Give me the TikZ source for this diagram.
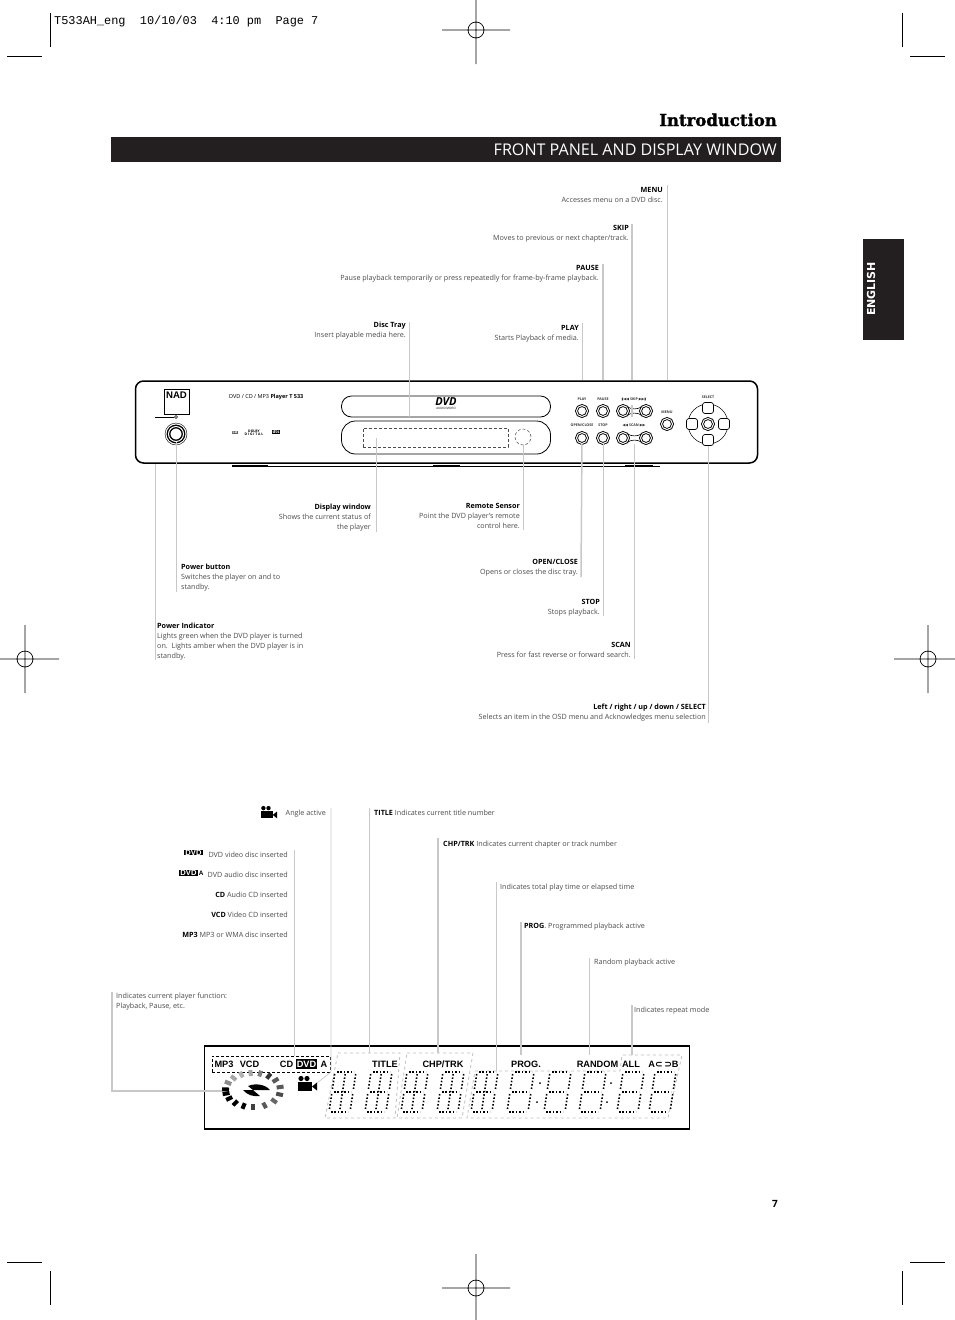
\documentclass[tikz,border=0pt]{standalone}
\usepackage{fontspec}
\setmainfont{Open Sans}
\newfontfamily\symfont{DejaVu Sans}
\newfontfamily\dispfont{Liberation Sans}
\newfontfamily\typefont{Liberation Mono}
\newfontfamily\slabfont[BoldFeatures={FakeBold=1.5}]{DejaVu Serif}
\usepackage{tikz}
\usetikzlibrary{positioning}
\definecolor{txt}{HTML}{4A4A4A}
\definecolor{ink}{HTML}{231F20}
\definecolor{leadc}{HTML}{C8C8C8}
\newcommand{\hd}[1]{\textbf{\textcolor{black}{#1}}}

\begin{document}
\begin{tikzpicture}[x=1pt, y=-1pt,
  note/.style={font=\fontsize{7.2}{10}\selectfont, inner sep=0pt, align=right, anchor=north east, text=txt, yshift=-1pt},
  noter/.style={note, align=left, anchor=north west},
  lead/.style={draw=leadc, line width=0.7pt},
  leadb/.style={draw=leadc, line width=1.5pt},
  crop/.style={draw=black, line width=0.7pt},
  knob/.style={circle, draw, line width=0.9pt, double=white, double distance=1pt, minimum size=11pt, inner sep=0pt},
  pad/.style={draw, fill=white, rounded corners=2.5pt, line width=0.7pt, minimum size=11pt, inner sep=0pt},
  tiny/.style={font=\bfseries\fontsize{3.6}{4}\selectfont, text=black!80, inner sep=0pt},
  disp/.style={font=\dispfont\bfseries\fontsize{9.2}{10}\selectfont, inner sep=0pt, anchor=base},
  inv/.style={fill=black, text=white, inner sep=1pt},
  group/.style={draw=black!25, line width=0.8pt, dashed},
  dots/.style={line width=1.6pt, dash pattern=on 1.5pt off 1.9pt, black},
  regmark/.pic={\draw[crop] (0,0) circle (8pt) (-34,0) -- (34,0) (0,-34) -- (0,34);},
  camera/.pic={
    \fill (-9,-1) rectangle (5,8);
    \fill (-6,-4) circle (2.6pt) (0,-4) circle (2.6pt);
    \fill (5,4) -- (10,0) -- (10,8) -- cycle;},
  digit/.pic={
    \begin{scope}[xslant=.15]
    \draw[dots] (2,-40) -- (19,-40) (2,-20) -- (19,-20) (2,0) -- (19,0);
    \draw[dots] (0,-38) -- (0,-22) (0,-18) -- (0,-2) (21,-38) -- (21,-22) (21,-18) -- (21,-2);
    \end{scope}},
  digitb/.pic={
    \pic {digit};
    \begin{scope}[xslant=.15]
    \draw[dots] (10.5,-38) -- (10.5,-2);
    \end{scope}}
]
\useasboundingbox (0,0) rectangle (954,1320);

% printer marks
\draw[crop] (50,13) -- (50,47) (7,56) -- (42,56) (902,13) -- (902,47) (910,56) -- (945,56);
\draw[crop] (50,1271) -- (50,1305) (7,1262) -- (42,1262) (902,1271) -- (902,1305) (910,1262) -- (945,1262);
\pic at (476,30) {regmark};
\pic at (476,1288) {regmark};
\pic at (25,659) {regmark};
\pic at (928,659) {regmark};
\node[anchor=west, inner sep=0pt, font=\typefont\fontsize{11.9}{12}\selectfont] (slug) at (54,21) {T533AH\_eng~~10/10/03~~4:10~pm~~Page~7};

% heading
\node[anchor=base east, inner sep=0pt, font=\slabfont\bfseries\fontsize{16.5}{18}\selectfont] (intro) at (777,126) {Introduction};
\node[fill=ink, minimum width=670pt, minimum height=25pt, inner sep=0pt] (bar) at (446,149.5) {};
\node[anchor=base east, inner sep=0pt, text=white, font=\fontsize{16.1}{18}\selectfont] (bartext) at (777,155) {FRONT PANEL AND DISPLAY WINDOW};
\node[fill=ink, minimum width=41pt, minimum height=101pt, inner sep=0pt] (tab) at (883.5,289.5) {};
\node[rotate=90, inner sep=0pt, text=white, font=\symfont\bfseries\fontsize{11}{12}\selectfont] (tabtext) at (871,289) {ENGLISH};
\node[inner sep=0pt, font=\bfseries\fontsize{10}{12}\selectfont] (pageno) at (775,1204) {7};

% player front
\draw[black, line width=0.9pt] (232,466) -- (660,466);
\draw[black, line width=2pt] (232,465.5) -- (268,465.5) (433,465.5) -- (460,465.5) (625,465.5) -- (653,465.5);
\node[draw, line width=1.5pt, fill=white, rounded corners=8pt, minimum width=622pt, minimum height=82pt, inner sep=0pt] (panel) at (446.5,422) {};
\node[draw, line width=0.8pt, rounded corners=10pt, minimum width=209pt, minimum height=21pt, inner sep=0pt] (tray) at (446,406.5) {};
\node[draw, line width=0.8pt, rounded corners=14pt, minimum width=209pt, minimum height=33pt, inner sep=0pt] (window) at (446,437.5) {};
\node[draw, black!70, line width=0.5pt, densely dashed, minimum width=145pt, minimum height=19pt, inner sep=0pt] (screen) at (435.5,437.5) {};
\node[draw, circle, black!70, line width=0.5pt, densely dashed, minimum size=16pt, inner sep=0pt] (sensor) at (523,437) {};
\node[draw, line width=0.8pt, minimum width=25pt, minimum height=25pt, inner sep=0pt] (nad) at (176.5,401.5) {};
\node[inner sep=0pt, font=\dispfont\bfseries\fontsize{9.6}{10}\selectfont] (nadtext) at (176.5,395) {NAD};
\node[draw, circle, line width=0.5pt, minimum size=3pt, inner sep=0pt] (powerled) at (176,417) {};
\node[circle, draw, line width=1.4pt, double=white, double distance=1pt, minimum size=15pt, inner sep=0pt] (power) at (176,434) {};
\node[draw, circle, line width=0.4pt, minimum size=22pt, inner sep=0pt] at (power) {};
\node[anchor=west, inner sep=0pt, font=\fontsize{5.5}{6}\selectfont] (model) at (229,397) {DVD / CD / MP3 \textbf{Player T 533}};
\node[inner sep=0.5pt, fill=black!60, text=white, font=\bfseries\fontsize{3.4}{4}\selectfont] (cdlogo) at (235,432.5) {CD};
\node[inner sep=0pt, font=\bfseries\fontsize{3.4}{4}\selectfont, align=center] (dolby) at (254,432.5) {DOLBY\\[-1pt]D I G I T A L};
\node[inner sep=0.6pt, fill=black, text=white, font=\bfseries\fontsize{4.4}{5}\selectfont] (dts) at (276,432) {dts};
\node[inner sep=0pt, font=\bfseries\itshape\fontsize{11}{11}\selectfont] (dvdlogo) at (446,402) {DVD};
\node[inner sep=0pt, below=0.5pt of dvdlogo, font=\fontsize{3}{3}\selectfont] (dvdsub) {AUDIO/VIDEO};

% buttons
\node[knob] (play) at (582,411) {};
\node[knob] (pause) at (603,411) {};
\node[knob] (skipl) at (623,411) {};
\node[knob] (skipr) at (646,411) {};
\node[knob] (menu) at (667,424) {};
\node[knob] (open) at (582,438) {};
\node[knob] (stop) at (603,438) {};
\node[knob] (scanl) at (623,438) {};
\node[knob] (scanr) at (646,438) {};
\draw[line width=0.6pt] (skipl.north east) to[bend right=30] (skipr.north west);
\draw[line width=0.6pt] (skipl.south east) to[bend left=30] (skipr.south west);
\draw[line width=0.6pt] (scanl.north east) to[bend right=30] (scanr.north west);
\draw[line width=0.6pt] (scanl.south east) to[bend left=30] (scanr.south west);
\node[draw, circle, line width=0.5pt, minimum size=40pt, inner sep=0pt] (ring) at (708,424) {};
\node[knob] (enter) at (ring) {};
\node[pad] (up) at (708,408) {};
\node[pad] (down) at (708,440) {};
\node[pad] (left) at (692,424) {};
\node[pad] (right) at (724,424) {};
\node[tiny] (playt) at (582,399) {PLAY};
\node[tiny] (pauset) at (603,399) {PAUSE};
\node[tiny] (skipt) at (634,399) {{\symfont ▮◀◀} SKIP {\symfont ▶▶▮}};
\node[tiny] (menut) at (667,412) {MENU};
\node[tiny] (opent) at (582,425) {OPEN/CLOSE};
\node[tiny] (stopt) at (603,425) {STOP};
\node[tiny] (scant) at (634,425) {{\symfont ◀◀} SCAN {\symfont ▶▶}};
\node[tiny] (selt) at (708,397) {SELECT};

% notes above and below the player
\node[note] (menun) at (663,186) {\hd{MENU}\\Accesses menu on a DVD disc.};
\node[note] (skipn) at (629,224) {\hd{SKIP}\\Moves to previous or next chapter/track.};
\node[note] (pausen) at (599,264) {\hd{PAUSE}\\Pause playback temporarily or press repeatedly for frame-by-frame playback.};
\node[note] (playn) at (579,324) {\hd{PLAY}\\Starts Playback of media.};
\node[note] (trayn) at (406,321) {\hd{Disc Tray}\\Insert playable media here.};
\node[note] (windown) at (371,503) {\hd{Display window}\\Shows the current status of\\the player};
\node[note] (sensorn) at (520,502) {\hd{Remote Sensor}\\Point the DVD player's remote\\control here.};
\node[noter] (powern) at (181,563) {\hd{Power button}\\Switches the player on and to\\standby.};
\node[noter] (ledn) at (157,622) {\hd{Power Indicator}\\Lights green when the DVD player is turned\\on.~~Lights amber when the DVD player is in\\standby.};
\node[note] (openn) at (578,558) {\hd{OPEN/CLOSE}\\Opens or closes the disc tray.};
\node[note] (stopn) at (600,598) {\hd{STOP}\\Stops playback.};
\node[note] (scann) at (631,641) {\hd{SCAN}\\Press for fast reverse or forward search.};
\node[note] (seln) at (706,703) {\hd{Left / right / up / down / SELECT}\\Selects an item in the OSD menu and Acknowledges menu selection};

\coordinate (menutop) at (667,185);
\coordinate (skiptop) at (632,224);
\coordinate (pausetop) at (603,264);
\coordinate (playtop) at (582,323);
\coordinate (traytop) at (409,322);
\coordinate (windowend) at (376,532);
\coordinate (sensorend) at (523,530);
\coordinate (powerend) at (176,592);
\coordinate (ledend) at (155,660);
\coordinate (openend) at (581,577);
\coordinate (stopend) at (603,616);
\coordinate (scanend) at (634,659);
\coordinate (selend) at (708,723);
\draw[lead] (menutop) -- (menutop |- panel.north);
\draw[leadb] (skiptop) -- (skiptop |- panel.north);
\draw[leadb] (skiptop |- skipl.north) -- (skiptop |- skipl.south);
\draw[leadb] (pausetop) -- (pausetop |- panel.north);
\draw[lead] (playtop) -- (playtop |- panel.north);
\draw[lead] (traytop) -- (traytop |- tray.330);
\draw[lead] (windowend) -- (windowend |- screen);
\draw[lead] (sensorend) -- (sensor.south);
\draw[lead] (powerend) -- (power.south);
\draw[lead] (ledend) -- (ledend |- panel.south);
\draw[black, line width=0.6pt] (powerled) -- (powerled -| ledend);
\draw[leadb] (openend) -- (open);
\draw[lead] (stopend) -- (stop.south);
\draw[lead] (scanend) -- (scanend |- scanl.south);
\draw[lead] (selend) -- (down.south);

% notes over the display
\pic[scale=.85] at (268.5,811.5) {camera};
\node[note] (anglen) at (326,808.5) {Angle active};
\node[note] (dvdn) at (288,850.5) {DVD video disc inserted};
\node[note] (audion) at (288,870.5) {DVD audio disc inserted};
\node[note] (cdn) at (288,890.5) {\hd{CD} Audio CD inserted};
\node[note] (vcdn) at (288,910.5) {\hd{VCD} Video CD inserted};
\node[note] (mp3n) at (288,930.5) {\hd{MP3} MP3 or WMA disc inserted};
\node[inv, font=\dispfont\bfseries\fontsize{7.6}{8}\selectfont, inner ysep=0pt, inner xsep=1pt] (dvdk) at (193.5,852.5) {DVD};
\node[inv, font=\dispfont\bfseries\fontsize{7.6}{8}\selectfont, inner ysep=0pt, inner xsep=1pt] (audiok) at (188.5,873) {DVD};
\node[inner sep=0pt, right=1pt of audiok, font=\dispfont\bfseries\fontsize{6.4}{7}\selectfont] (audioa) {A};
\node[noter] (titlen) at (374,808.5) {\hd{TITLE} Indicates current title number};
\node[noter] (trackn) at (443,839.5) {\hd{CHP/TRK} Indicates current chapter or track number};
\node[noter] (timen) at (500,882.5) {Indicates total play time or elapsed time};
\node[noter] (progn) at (524,921.5) {\hd{PROG}. Programmed playback active};
\node[noter] (randn) at (594,957.5) {Random playback active};
\node[noter] (repn) at (634,1005.5) {Indicates repeat mode};
\node[noter] (funcn) at (116,991.5) {Indicates current player function:\\Playback, Pause, etc.};

% display window
\node[draw, line width=1.5pt, minimum width=485pt, minimum height=83pt, inner sep=0pt] (display) at (447,1087.5) {};
\node[draw, line width=0.6pt, densely dashed, minimum width=118pt, minimum height=16pt, inner sep=0pt] (discs) at (271,1064) {};
\draw[group] (338,1053) -- (400,1053) -- (395,1118) -- (325,1118) -- cycle;
\draw[group] (407,1053) -- (473,1053) -- (462,1118) -- (397,1118) -- cycle;
\draw[group] (475,1071) -- (620,1071) -- (622,1055) -- (682,1055) -- (668,1118) -- (467,1118) -- cycle;
\node[disp] (mp3) at (224,1067) {MP3};
\node[disp] (vcd) at (249.5,1067) {VCD};
\node[disp] (cd) at (286.5,1067) {CD};
\node[disp, inv, inner xsep=1pt, inner ysep=2pt] (dvd) at (306.5,1067) {DVD};
\node[disp] (audio) at (324,1067) {A};
\node[disp] (title) at (385,1067) {TITLE};
\node[disp] (chptrk) at (443,1067) {CHP/TRK};
\node[disp] (prog) at (526,1067) {PROG.};
\node[disp] (random) at (597.5,1067) {RANDOM};
\node[disp] (all) at (631,1067) {ALL};
\node[disp] (abrep) at (663.5,1067) {A{\symfont ⊂}\,{\symfont ⊃}B};
\pic (angle) at (307,1082.5) {camera};
\coordinate (anglecam) at (317,1083);

% disc spinner
\coordinate (spin) at (253,1090);
\foreach \a/\g in {178/100,155/45,135/35,115/30,95/35,75/50,55/80,35/65,10/65,-15/70,-40/60,-65/65,-90/75,-110/100,-130/100,-150/100,-168/100}
  \draw[line width=4pt, black!\g] ([shift={(\a:24pt and 14pt)}]spin) -- ([shift={(\a:31pt and 20pt)}]spin);
\fill (248,1086) .. controls (255,1083) and (265,1084) .. (270,1090) -- (253,1090) -- cycle;
\fill (243,1090) -- (253,1090) -- (260,1096) .. controls (254,1097) and (247,1095) .. (243,1090) -- cycle;

% digits
\foreach \x in {329,365,401,437,471}
  \pic at (\x,1112) {digitb};
\foreach \x in {507,544,579,617,649}
  \pic at (\x,1112) {digit};
\fill (540,1083) circle (1pt) (537,1102) circle (1pt) (611,1083) circle (1pt) (607,1102) circle (1pt);

% leaders into the display
\coordinate (angletop) at (331,808);
\coordinate (anglebend) at (331,1072);
\coordinate (disctop) at (294.5,850);
\coordinate (titletop) at (369,808);
\coordinate (tracktop) at (438,838);
\coordinate (timetop) at (496,882);
\coordinate (progtop) at (521,922);
\coordinate (randtop) at (589,958);
\coordinate (reptop) at (632,1005);
\coordinate (functop) at (112,992);
\coordinate (funcend) at (222,1091);
\coordinate (funcbend) at (112,1091);
\draw[lead] (angletop) -- (anglebend) -- (anglecam);
\draw[lead] (disctop) -- (disctop |- discs.north);
\draw[lead] (titletop) -- (369,1053);
\draw[leadb] (tracktop) -- (438,1053);
\draw[lead] (timetop) -- (496,1071);
\draw[leadb] (progtop) -- (521,1055);
\draw[lead] (randtop) -- (589,1055);
\draw[leadb] (reptop) -- (632,1055);
\draw[leadb] (functop) -- (funcbend) -- (funcend);
\end{tikzpicture}
\end{document}
